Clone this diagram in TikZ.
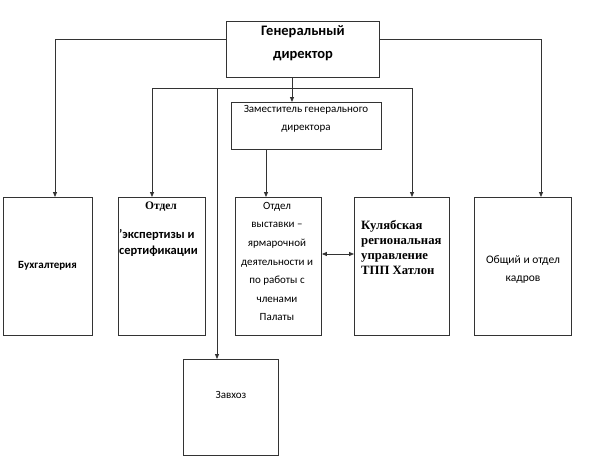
\documentclass[tikz,border=0pt]{standalone}
\usepackage{fontspec}
\setmainfont{Carlito}
\newfontfamily\tnr{Liberation Serif}
\usetikzlibrary{arrows.meta}
\begin{document}
\begin{tikzpicture}[x=1pt,y=-1pt,
  box/.style={draw=black!80,line width=0.9pt,inner sep=0pt,anchor=north west},
  con/.style={draw=black!80,line width=0.8pt},
  arr/.style={con,-{Triangle[length=5pt,width=4pt]}},
  dbl/.style={con,{Triangle[length=5pt,width=4pt]}-{Triangle[length=5pt,width=4pt]}},
  txt/.style={inner sep=0pt,align=center,font=\fontsize{11}{18.5}\selectfont}
]
\useasboundingbox (0,0) rectangle (600,466);
% boxes
\node[box,minimum width=153pt,minimum height=56pt] (g) at (226,21) {};
\node[box,minimum width=150pt,minimum height=47pt] (dep) at (231,102) {};
\node[box,minimum width=89pt,minimum height=138pt] (buh) at (3,197) {};
\node[box,minimum width=87pt,minimum height=138pt] (ek) at (118,197) {};
\node[box,minimum width=86pt,minimum height=138pt] (vys) at (235,197) {};
\node[box,minimum width=95pt,minimum height=138pt] (kul) at (354,197) {};
\node[box,minimum width=97pt,minimum height=138pt] (ob) at (474,197) {};
\node[box,minimum width=95pt,minimum height=96pt] (zav) at (183,359) {};
% texts
\node[txt,font=\bfseries\fontsize{14.5}{23}\selectfont] (tg) at (303,43) {Генеральный\\директор};
\node[txt,font=\fontsize{11}{18}\selectfont] (tdep) at (306,119) {Заместитель генерального\\директора};
\node[txt,font=\bfseries\fontsize{11}{18}\selectfont] (tbuh) at (47.5,266) {Бухгалтерия};
\node[txt,font=\tnr\bfseries\fontsize{11.5}{14}\selectfont] (tek1) at (161,207) {Отдел};
\node[txt,align=left,anchor=west,font=\bfseries\fontsize{12.5}{16.5}\selectfont] (tek2) at (119,243) {'экспертизы и\\сертификации};
\node[txt,font=\fontsize{11}{18.6}\selectfont] (tvys) at (277,261.5) {Отдел\\выставки --\\ярмарочной\\деятельности и\\по работы с\\членами\\Палаты};
\node[txt,align=left,anchor=west,font=\tnr\bfseries\fontsize{12.7}{15}\selectfont] (tkul) at (361,247.5) {Кулябская\\региональная\\управление\\ТПП Хатлон};
\node[txt,font=\fontsize{11.5}{18}\selectfont] (tob) at (523,270) {Общий и отдел\\кадров};
\node[txt,font=\fontsize{11}{18}\selectfont] (tzav) at (231,395) {Завхоз};
% junctions
\coordinate (gl) at (226,39);
\coordinate (gr) at (379,39);
\coordinate (gb) at (292,77);
\coordinate (j) at (292,88);
\coordinate (jl) at (152,88);
\coordinate (jz) at (217,88);
\coordinate (jr) at (412,88);
\coordinate (buhin) at (55,197);
\coordinate (obin) at (541,197);
\coordinate (ekin) at (152,197);
\coordinate (kulin) at (412,197);
\coordinate (zavin) at (217,359);
\coordinate (depin) at (292,102);
\coordinate (depout) at (266,149);
\coordinate (vysin) at (266,197);
% connectors
\draw[arr] (gl) -| (buhin);
\draw[arr] (gr) -| (obin);
\draw[arr] (gb) -- (depin);
\draw[arr] (j) -- (jl) -- (ekin);
\draw[arr] (j) -- (jr) -- (kulin);
\draw[arr] (jz) -- (zavin);
\draw[arr] (depout) -- (vysin);
\draw[dbl] (vys.east |- 0,254) -- (kul.west |- 0,254);
\end{tikzpicture}
\end{document}
